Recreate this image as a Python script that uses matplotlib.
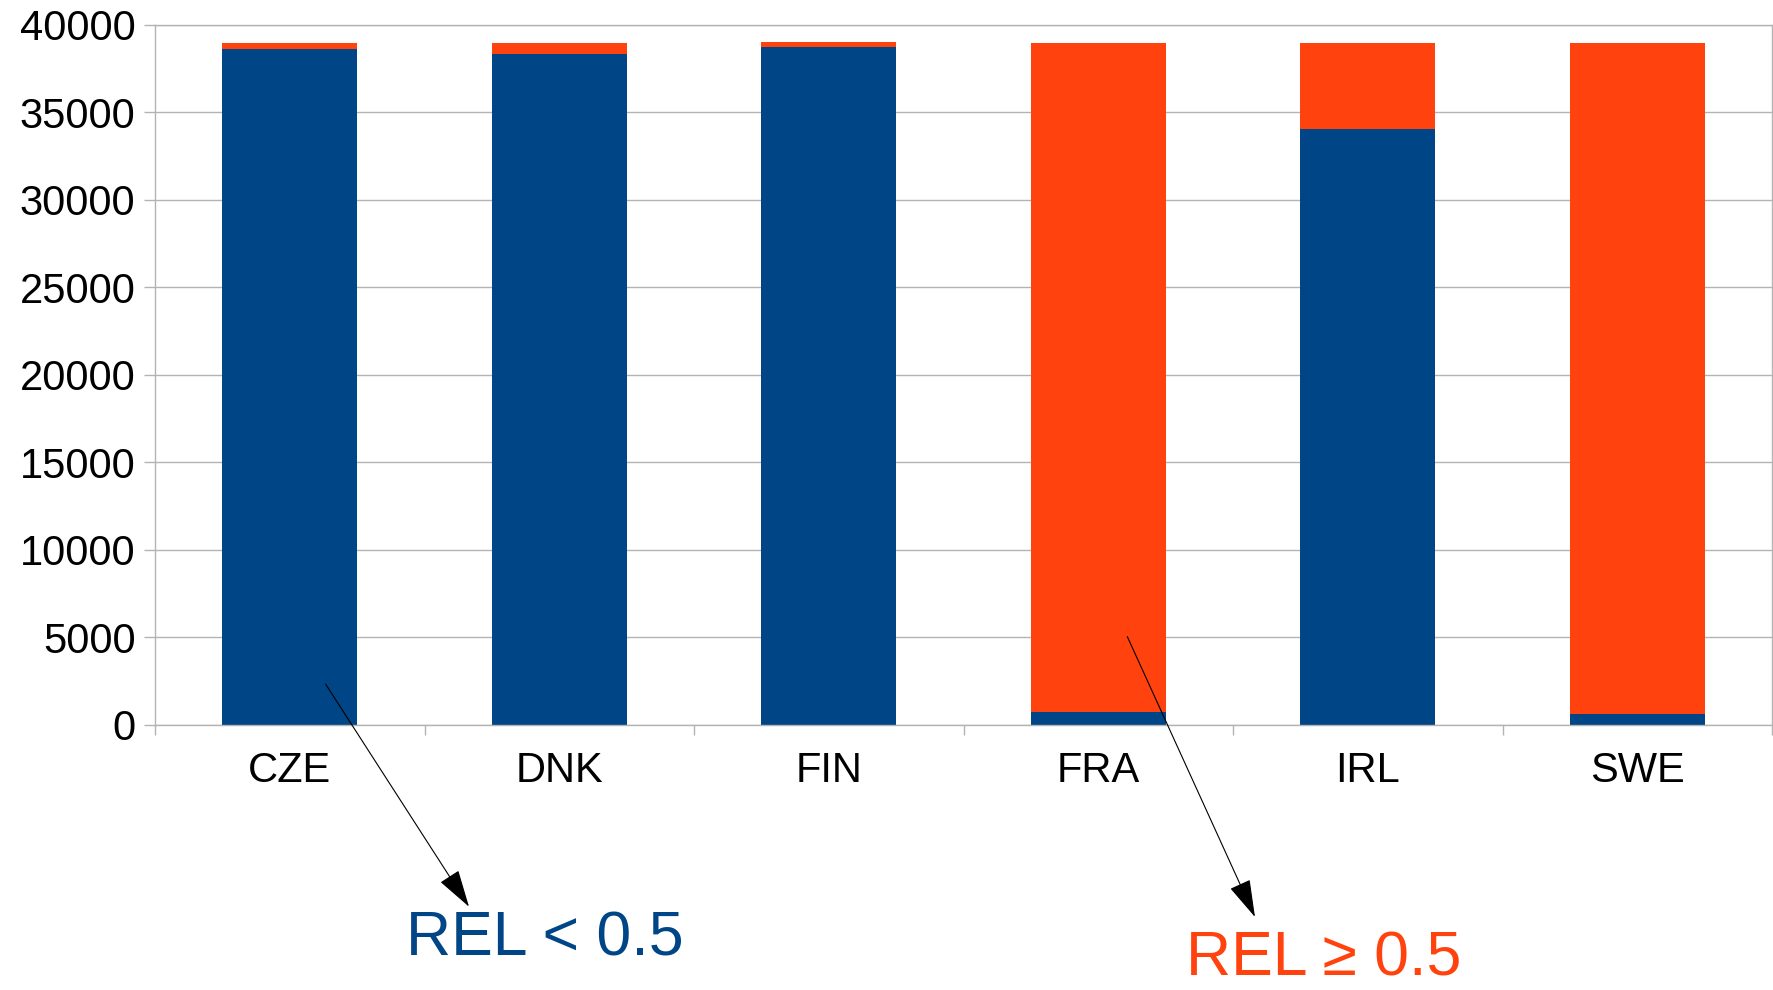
import matplotlib
matplotlib.use("Agg")
import matplotlib.pyplot as plt
import numpy as np

plt.rcParams['font.family'] = ['Liberation Sans', 'DejaVu Sans']

# Stacked totals per country, split by REL threshold
countries = ["CZE", "DNK", "FIN", "FRA", "IRL", "SWE"]
rel_low = [38620, 38330, 38740, 710, 34050, 610]      # REL < 0.5
rel_high = [340, 630, 280, 38250, 4910, 38350]        # REL >= 0.5
y_ticks = [0, 5000, 10000, 15000, 20000, 25000, 30000, 35000, 40000]

BLUE = "#004586"
ORANGE = "#ff420e"
GRID = "#b3b3b3"

W, H = 1773, 990
fig = plt.figure(figsize=(W / 100, H / 100), dpi=100)
ax = fig.add_axes([155 / W, 1 - 724.8 / H, (1772 - 155) / W, (724.8 - 24.9) / H])

x = np.arange(len(countries))
ax.bar(x, rel_low, width=0.5, color=BLUE, zorder=2)
ax.bar(x, rel_high, width=0.5, bottom=rel_low, color=ORANGE, zorder=2)

ax.set_xlim(-0.5, len(countries) - 0.5)
ax.set_ylim(0, 40000)
ax.set_yticks(y_ticks)
ax.set_yticklabels([str(v) for v in y_ticks], fontsize=30)

# category labels sit between boundary ticks
ax.set_xticks(np.arange(len(countries) + 1) - 0.5)
ax.set_xticklabels([])
ax.set_xticks(x, minor=True)
ax.set_xticklabels(countries, minor=True, fontsize=30)
ax.tick_params(axis='x', which='minor', length=0, pad=19)
ax.tick_params(axis='x', which='major', length=7, width=1, color=GRID)
ax.tick_params(axis='y', length=8, width=1, color=GRID, pad=6)

ax.grid(axis='y', color=GRID, linewidth=1, zorder=0)
for s in ax.spines.values():
    s.set_color(GRID)
    s.set_linewidth(1)

# annotations below the axis, in figure pixels
arrow = dict(arrowstyle="-|>,head_length=24,head_width=7", mutation_scale=1,
             color="black", lw=0.8, shrinkA=0, shrinkB=0)
ax.annotate("", xy=(469, H - 906.7), xytext=(325.6, H - 684.1),
            xycoords='figure pixels', textcoords='figure pixels', arrowprops=arrow)
ax.annotate("", xy=(1255, H - 917), xytext=(1127.3, H - 636.6),
            xycoords='figure pixels', textcoords='figure pixels', arrowprops=arrow)

fig.text(406 / W, 34 / H, "REL < 0.5", color=BLUE, fontsize=45, ha='left', va='baseline')
fig.text(1186 / W, 14 / H, "REL \u2265 0.5", color=ORANGE, fontsize=45, ha='left', va='baseline')

fig.savefig("out.png", dpi=100)
